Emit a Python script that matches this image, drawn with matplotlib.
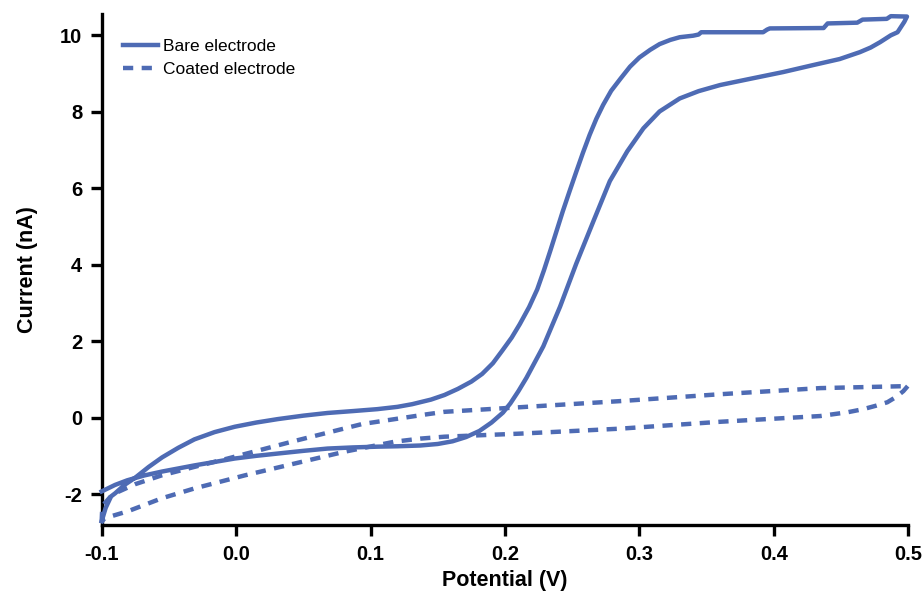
import matplotlib
matplotlib.use("Agg")
import matplotlib.pyplot as plt

# Bare electrode cyclic voltammogram (one closed loop: forward then reverse scan)
bare_potential = [
    -0.100, -0.097, -0.093, -0.090, -0.083, -0.075, -0.065, -0.055, -0.043, -0.031,
    -0.016, -0.001, 0.015, 0.031, 0.050, 0.068, 0.087, 0.105, 0.120, 0.131,
    0.145, 0.155, 0.165, 0.175, 0.183, 0.191, 0.198, 0.205, 0.211, 0.218,
    0.224, 0.229, 0.234, 0.2385, 0.243, 0.248, 0.253, 0.258, 0.263, 0.268,
    0.273, 0.279, 0.286, 0.293, 0.300, 0.308, 0.315, 0.323, 0.330, 0.340,
    0.344, 0.346, 0.392, 0.395, 0.397, 0.437, 0.440, 0.462, 0.466, 0.484,
    0.487, 0.499,
    0.497, 0.492, 0.487, 0.479, 0.472, 0.464, 0.449, 0.429, 0.407, 0.382,
    0.360, 0.344, 0.330, 0.315, 0.303, 0.291, 0.278, 0.266, 0.253, 0.241,
    0.2285, 0.216, 0.210, 0.204, 0.1985, 0.190, 0.181, 0.171, 0.161, 0.150,
    0.137, 0.120, 0.1055, 0.087, 0.068, 0.050, 0.031, 0.015, -0.001, -0.016,
    -0.031, -0.043, -0.055, -0.068, -0.081, -0.090, -0.100]
bare_current = [
    -2.70, -2.35, -2.05, -1.97, -1.75, -1.56, -1.28, -1.03, -0.78, -0.56,
    -0.37, -0.23, -0.12, -0.03, 0.06, 0.13, 0.18, 0.23, 0.29, 0.36,
    0.48, 0.60, 0.76, 0.95, 1.15, 1.43, 1.76, 2.10, 2.45, 2.90,
    3.36, 3.86, 4.40, 4.90, 5.40, 5.92, 6.43, 6.93, 7.40, 7.82,
    8.18, 8.55, 8.87, 9.18, 9.42, 9.62, 9.77, 9.88, 9.95, 9.99,
    10.02, 10.08, 10.08, 10.15, 10.18, 10.19, 10.31, 10.33, 10.41, 10.43,
    10.50, 10.49,
    10.35, 10.08, 10.00, 9.82, 9.68, 9.56, 9.38, 9.22, 9.04, 8.86,
    8.70, 8.54, 8.35, 8.01, 7.57, 6.97, 6.19, 5.16, 4.03, 2.91,
    1.87, 1.05, 0.70, 0.38, 0.14, -0.12, -0.34, -0.50, -0.61, -0.68,
    -0.72, -0.74, -0.75, -0.77, -0.80, -0.86, -0.93, -0.99, -1.06, -1.15,
    -1.24, -1.32, -1.40, -1.50, -1.63, -1.75, -1.92]

# Coated electrode cyclic voltammogram
coated_potential = [
    -0.100, -0.0995, -0.092, -0.075, -0.0553, -0.030, -0.0062, 0.0437, 0.0936, 0.1427,
    0.155, 0.211, 0.2856, 0.360, 0.4345, 0.4963, 0.500,
    0.4963, 0.491, 0.4844, 0.476, 0.4665, 0.455, 0.4345, 0.360, 0.2856, 0.211,
    0.155, 0.137, 0.118, 0.081, 0.0437, 0.0065, -0.0308, -0.0553, -0.0806, -0.0978,
    -0.100]
coated_current = [
    -2.72, -2.30, -2.00, -1.73, -1.50, -1.27, -1.06, -0.60, -0.16, 0.10,
    0.16, 0.28, 0.44, 0.62, 0.78, 0.83, 0.85,
    0.70, 0.55, 0.41, 0.32, 0.23, 0.15, 0.05, -0.10, -0.28, -0.41,
    -0.49, -0.54, -0.62, -0.88, -1.19, -1.50, -1.84, -2.10, -2.44, -2.62,
    -2.72]

x_ticks = [-0.1, 0.0, 0.1, 0.2, 0.3, 0.4, 0.5]
x_tick_labels = ["-0.1", "0.0", "0.1", "0.2", "0.3", "0.4", "0.5"]
y_ticks = [-2, 0, 2, 4, 6, 8, 10]
y_tick_labels = ["-2", "0", "2", "4", "6", "8", "10"]

color = "#4E6BB4"
plt.rcParams['font.family'] = ['Liberation Sans', 'DejaVu Sans']
plt.rcParams['axes.unicode_minus'] = False

fig = plt.figure(figsize=(9.24, 5.94), dpi=100)
ax = fig.add_axes([0.110, 0.116, 0.873, 0.860])

ax.plot(bare_potential, bare_current, color=color, lw=3.2, solid_joinstyle='round',
        label="Bare electrode", clip_on=False, zorder=3)
ax.plot(coated_potential, coated_current, color=color, lw=3.2, linestyle=(0, (2.3, 1.9)),
        dash_capstyle='butt', label="Coated electrode", clip_on=False, zorder=3)

ax.set_xlim(-0.1, 0.5)
ax.set_ylim(-2.8, 10.55)
ax.set_xticks(x_ticks)
ax.set_xticklabels(x_tick_labels)
ax.set_yticks(y_ticks)
ax.set_yticklabels(y_tick_labels)

for s in ['top', 'right']:
    ax.spines[s].set_visible(False)
for s in ['left', 'bottom']:
    ax.spines[s].set_linewidth(2.4)
    ax.spines[s].set_color('black')

ax.tick_params(axis='both', which='major', direction='out', length=8, width=2.4,
               labelsize=14.5, pad=6)
for lab in ax.get_xticklabels() + ax.get_yticklabels():
    lab.set_fontweight('bold')

ax.set_xlabel("Potential (V)", fontsize=15.5, fontweight='bold', labelpad=5)
ax.set_ylabel("Current (nA)", fontsize=15.5, fontweight='bold', labelpad=16)

leg = ax.legend(loc='upper left', bbox_to_anchor=(0.018, 0.966), frameon=False,
                fontsize=12.5, handlelength=2.0, handletextpad=0.3, labelspacing=0.45,
                borderaxespad=0)

fig.savefig("out.png", dpi=100)
